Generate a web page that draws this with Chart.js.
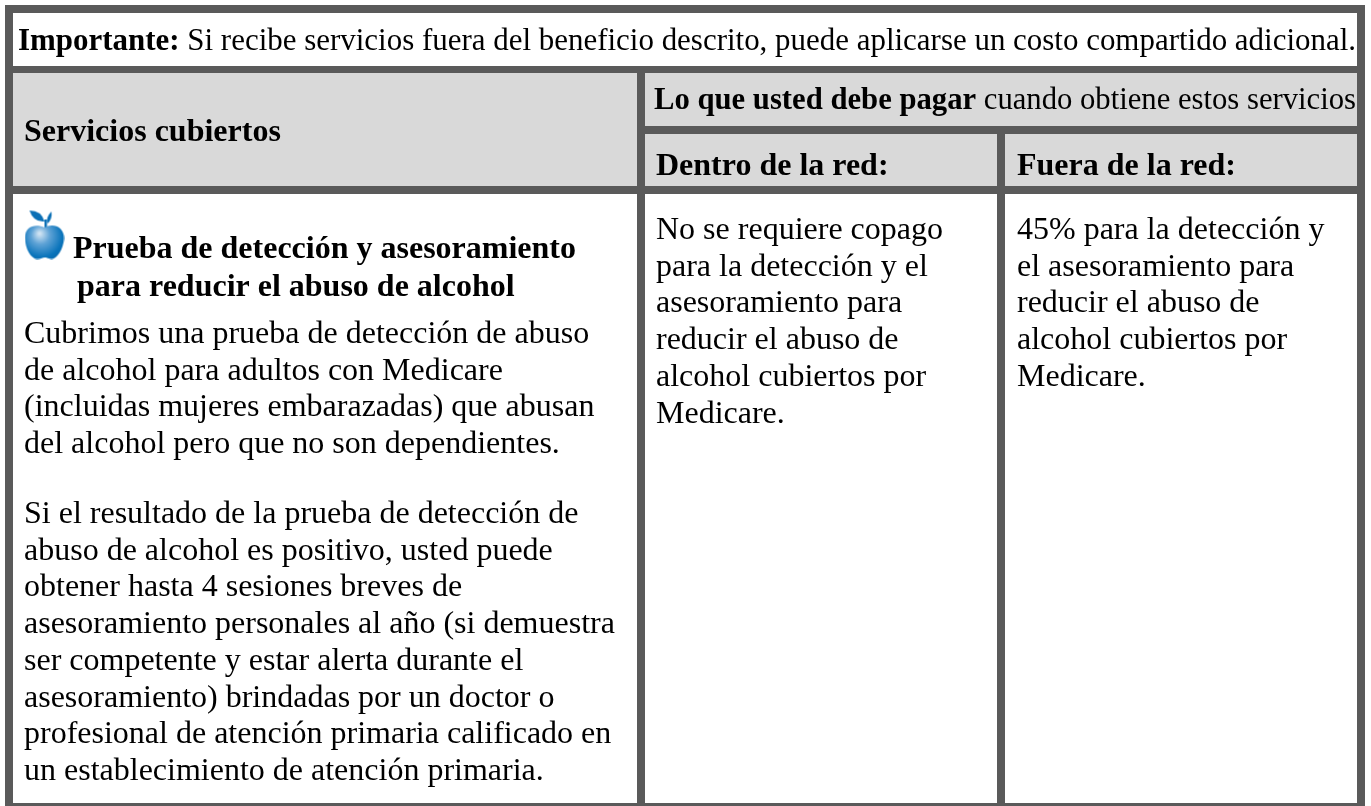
<!DOCTYPE html>
<html lang="es">
<head>
<meta charset="utf-8">
<title>Servicios cubiertos</title>
<script src="https://cdn.jsdelivr.net/npm/chart.js@4"></script>
<style>
  html, body { margin: 0; background: #fff; overflow: hidden; }
  canvas { display: block; }
</style>
</head>
<body>
<canvas id="chart" width="1371" height="806"></canvas>
<script>
// table content
const noticeBold = "Importante:";
const noticeText = " Si recibe servicios fuera del beneficio descrito, puede aplicarse un costo compartido adicional.";
const headCovered = "Servicios cubiertos";
const headPayBold = "Lo que usted debe pagar";
const headPayText = " cuando obtiene estos servicios";
const headIn = "Dentro de la red:";
const headOut = "Fuera de la red:";
const serviceTitle = ["Prueba de detección y asesoramiento", "para reducir el abuso de alcohol"];
const serviceIntro = [
  "Cubrimos una prueba de detección de abuso",
  "de alcohol para adultos con Medicare",
  "(incluidas mujeres embarazadas) que abusan",
  "del alcohol pero que no son dependientes."
];
const serviceMore = [
  "Si el resultado de la prueba de detección de",
  "abuso de alcohol es positivo, usted puede",
  "obtener hasta 4 sesiones breves de",
  "asesoramiento personales al año (si demuestra",
  "ser competente y estar alerta durante el",
  "asesoramiento) brindadas por un doctor o",
  "profesional de atención primaria calificado en",
  "un establecimiento de atención primaria."
];
const inNetwork = [
  "No se requiere copago",
  "para la detección y el",
  "asesoramiento para",
  "reducir el abuso de",
  "alcohol cubiertos por",
  "Medicare."
];
const outNetwork = [
  "45% para la detección y",
  "el asesoramiento para",
  "reducir el abuso de",
  "alcohol cubiertos por",
  "Medicare."
];

// table grid, in axis units
const colEdges = [5, 13, 637, 645, 997, 1005, 1357, 1365];
const rowEdges = [5, 13, 66, 73, 126, 134, 186, 194, 803, 806];

const BORDER = "#5a5a5a", HEAD = "#d9d9d9", WHITE = "#ffffff", INK = "#000000";
const SERIF = "'Liberation Serif', 'Times New Roman', serif";
const SIZE = 32, LINE = 36.7;

function cell(c0, c1, r0, r1, color) {
  return {
    data: [{x: colEdges[c0], y: rowEdges[r0]}, {x: colEdges[c1], y: rowEdges[r0]}],
    fill: {value: rowEdges[r1]},
    backgroundColor: color,
    borderWidth: 0,
    pointRadius: 0,
    tension: 0
  };
}

function makeApple() {
  const cv = document.createElement("canvas");
  cv.width = 40; cv.height = 50;
  const g = cv.getContext("2d");
  g.fillStyle = "#0a6fb5";
  // leaf and stem
  g.beginPath();
  g.moveTo(5, 1); g.quadraticCurveTo(17, 1, 20, 12); g.quadraticCurveTo(9, 13, 5, 1);
  g.fill();
  g.beginPath();
  g.moveTo(27, 2); g.quadraticCurveTo(28, 10, 23, 14); g.quadraticCurveTo(21, 8, 27, 2);
  g.fill();
  g.fillRect(20, 10, 2.5, 9);
  // body
  const grad = g.createRadialGradient(15, 24, 1, 18, 28, 25);
  grad.addColorStop(0, "#cfe3f3");
  grad.addColorStop(0.35, "#5fa3d6");
  grad.addColorStop(0.8, "#0a74bb");
  grad.addColorStop(1, "#0869ad");
  g.fillStyle = grad;
  g.beginPath();
  g.moveTo(20, 18);
  g.bezierCurveTo(28, 13, 40, 17, 39.5, 29);
  g.bezierCurveTo(39, 40, 32, 50, 27, 49.5);
  g.bezierCurveTo(23, 49, 22, 48, 20, 48);
  g.bezierCurveTo(18, 48, 16, 50, 12, 49.5);
  g.bezierCurveTo(7, 49, 0.5, 40, 0.5, 28);
  g.bezierCurveTo(0.5, 16, 12, 14, 20, 18);
  g.fill();
  return cv;
}

function textLines(ctx, sx, sy, lines, x, y0, bold) {
  ctx.font = (bold ? "bold " : "") + SIZE + "px " + SERIF;
  lines.forEach((t, i) => {
    ctx.fillText(t, sx.getPixelForValue(x), sy.getPixelForValue(y0 + i * LINE));
  });
}

// bold + plain run, squeezed to end at xEnd like the source does
function runs(ctx, sx, sy, boldPart, plainPart, x, xEnd, y) {
  const px = sx.getPixelForValue(x), py = sy.getPixelForValue(y);
  ctx.font = "bold " + SIZE + "px " + SERIF;
  const w = ctx.measureText(boldPart).width;
  ctx.font = SIZE + "px " + SERIF;
  const total = w + ctx.measureText(plainPart).width;
  ctx.save();
  ctx.translate(px, py);
  ctx.scale((sx.getPixelForValue(xEnd) - px) / total, 1);
  ctx.font = "bold " + SIZE + "px " + SERIF;
  ctx.fillText(boldPart, 0, 0);
  ctx.font = SIZE + "px " + SERIF;
  ctx.fillText(plainPart, w, 0);
  ctx.restore();
}

const tableText = {
  id: "tableText",
  afterDatasetsDraw(chart) {
    const ctx = chart.ctx, sx = chart.scales.x, sy = chart.scales.y;
    ctx.save();
    ctx.fillStyle = INK;
    ctx.textBaseline = "alphabetic";
    ctx.textAlign = "left";
    runs(ctx, sx, sy, noticeBold, noticeText, 18, 1356, 50);
    textLines(ctx, sx, sy, [headCovered], 24, 141, true);
    runs(ctx, sx, sy, headPayBold, headPayText, 654, 1356, 109);
    textLines(ctx, sx, sy, [headIn], 656, 175, true);
    textLines(ctx, sx, sy, [headOut], 1017, 175, true);
    textLines(ctx, sx, sy, [serviceTitle[0]], 73, 258, true);
    textLines(ctx, sx, sy, [serviceTitle[1]], 77, 296, true);
    textLines(ctx, sx, sy, serviceIntro, 24, 343, false);
    textLines(ctx, sx, sy, serviceMore, 24, 523, false);
    textLines(ctx, sx, sy, inNetwork, 656, 239, false);
    textLines(ctx, sx, sy, outNetwork, 1017, 239, false);
    ctx.restore();
  }
};

new Chart(document.getElementById("chart").getContext("2d"), {
  type: "line",
  data: {
    datasets: [
      // apple marker sits on top, frame is last so it goes underneath
      {
        data: [{x: 44.5, y: 234.5}],
        pointStyle: makeApple(),
        pointRadius: 5,
        showLine: false
      },
      cell(1, 6, 1, 2, WHITE),
      cell(1, 2, 3, 6, HEAD),
      cell(3, 6, 3, 4, HEAD),
      cell(3, 4, 5, 6, HEAD),
      cell(5, 6, 5, 6, HEAD),
      cell(1, 2, 7, 8, WHITE),
      cell(3, 4, 7, 8, WHITE),
      cell(5, 6, 7, 8, WHITE),
      cell(0, 7, 0, 9, BORDER)
    ]
  },
  options: {
    responsive: false,
    animation: false,
    events: [],
    layout: {padding: 0, autoPadding: false},
    plugins: {legend: {display: false}, title: {display: false}, tooltip: {enabled: false}},
    scales: {
      x: {type: "linear", min: 0, max: 1371, display: false},
      y: {type: "linear", min: 0, max: 806, reverse: true, display: false}
    }
  },
  plugins: [tableText]
});
</script>
</body>
</html>
